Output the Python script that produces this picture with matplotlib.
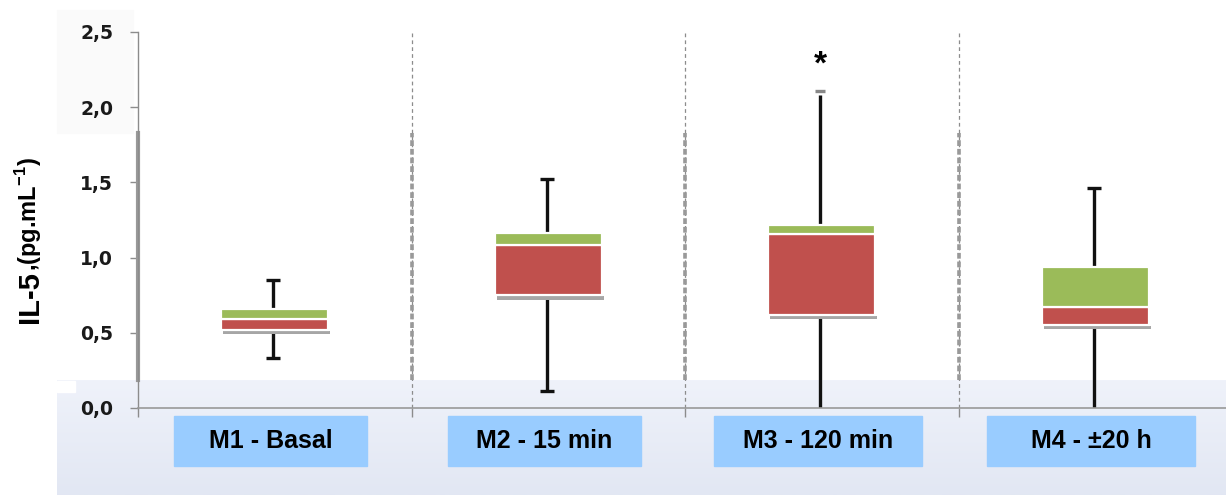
import numpy as np
import matplotlib
matplotlib.use('Agg')
import matplotlib.pyplot as plt
from matplotlib.patches import Rectangle
import matplotlib.transforms as mtransforms

# data (pg/mL)
groups = ['M1 - Basal', 'M2 - 15 min', 'M3 - 120 min', 'M4 - \u00b120 h']
q1 = [0.52, 0.75, 0.62, 0.555]
median = [0.595, 1.085, 1.16, 0.67]
q3 = [0.655, 1.165, 1.215, 0.94]
lowest = [0.33, 0.115, 0.0, 0.0]
highest = [0.85, 1.52, 2.11, 1.465]
yticks = [0.0, 0.5, 1.0, 1.5, 2.0, 2.5]
ytick_labels = ['0,0', '0,5', '1,0', '1,5', '2,0', '2,5']
star_group = 2
star_y = 2.28

W, H = 1226, 495
red = '#c0504d'
green = '#9bbb59'
labelBlue = '#99ccff'
grey = '#8c8c8c'

plt.rcParams['mathtext.fontset'] = 'custom'
plt.rcParams['mathtext.rm'] = 'Liberation Sans:bold'
plt.rcParams['mathtext.bf'] = 'Liberation Sans:bold'

fig = plt.figure(figsize=(W / 100, H / 100), dpi=100)
fig.patch.set_facecolor('white')

# light band at the bottom and faint patch at the top left
bg = fig.add_axes([57 / W, 0, 1 - 57 / W, 115 / H], zorder=0)
grad = np.linspace(0, 1, 100).reshape(-1, 1)
c0 = np.array([0xef, 0xf2, 0xfa]) / 255.
c1 = np.array([0xe2, 0xe7, 0xf3]) / 255.
img = c0[None, None, :] * (1 - grad[:, :, None]) + c1[None, None, :] * grad[:, :, None]
bg.imshow(img, aspect='auto', extent=[0, 1, 0, 1])
bg.axis('off')
fig.patches.append(Rectangle((57 / W, 1 - 392 / H), 18 / W, 11 / H,
                             transform=fig.transFigure, color='white', zorder=0.5))
fig.patches.append(Rectangle((57 / W, 1 - 133 / H), 76 / W, 123 / H,
                             transform=fig.transFigure, color='#fafafa', zorder=0))

ax = fig.add_axes([138 / W, 1 - 408 / H, 1 - 138 / W, 376 / H], zorder=1)
ax.set_facecolor('none')
ax.set_xlim(0.5, 0.5 + (W - 138) / 273.5)
ax.set_ylim(0, 2.5)

x = np.arange(1, len(groups) + 1)
width = 0.39

# separators and left spine (thin full line plus thicker middle segment)
for sep in [1.5, 2.5, 3.5]:
    ax.axvline(sep, color=grey, lw=0.9, ls=(0, (3, 2.5)), zorder=1)
    ax.plot([sep, sep], [0.186, 1.83], color='#999999', lw=2.6,
            ls=(0, (1.6, 0.8)), zorder=1)
ax.plot([0.5, 0.5], [0.186, 1.83], color='#999999', lw=3.0, zorder=2,
        clip_on=False)

# whiskers
shift = 2 / 273.5
for i in range(len(groups)):
    xc = x[i] - 0.005
    ax.plot([xc, xc], [q3[i], highest[i] - (0.03 if i == star_group else 0)],
            color='#111111', lw=2.4, zorder=2, solid_capstyle='butt')
    ax.plot([xc, xc], [lowest[i], q1[i]], color='#111111', lw=2.4, zorder=2,
            solid_capstyle='butt')
    capColor = '#888888' if i == star_group else '#111111'
    capHalf = 0.018 if i == star_group else 0.026
    ax.plot([xc - capHalf, xc + capHalf], [highest[i], highest[i]],
            color=capColor, lw=2.4, zorder=2, solid_capstyle='butt')
    if lowest[i] > 0:
        ax.plot([xc - 0.026, xc + 0.026], [lowest[i], lowest[i]],
                color='#111111', lw=2.4, zorder=2, solid_capstyle='butt')

# box shadow, lower half (red) and upper half (green)
ax.bar(x + shift, [0.022] * len(x), width, bottom=np.array(q1) - 0.03,
       color='#a6a6a6', zorder=3)
ax.bar(x, np.array(median) - np.array(q1), width, bottom=q1, color=red,
       edgecolor='white', linewidth=1.6, zorder=4)
ax.bar(x, np.array(q3) - np.array(median), width, bottom=median, color=green,
       edgecolor='white', linewidth=1.6, zorder=4)

ax.text(x[star_group] - 0.005, star_y, '*', ha='center', va='center',
        fontsize=24, fontweight='bold', family='Liberation Sans')

# axes styling
for side in ['top', 'right']:
    ax.spines[side].set_visible(False)
ax.spines['left'].set_color(grey)
ax.spines['left'].set_linewidth(1.0)
ax.spines['bottom'].set_color('#999999')
ax.spines['bottom'].set_linewidth(1.2)
ax.set_yticks(yticks)
ax.set_yticklabels(ytick_labels, fontsize=13.5, fontweight='bold',
                   family='DejaVu Sans', color='#1a1a1a')
ax.tick_params(axis='y', length=6, width=1, color=grey, pad=12)
ax.set_xticks([0.5, 1.5, 2.5, 3.5])
ax.set_xticklabels([])
ax.tick_params(axis='x', length=6.5, width=1, color=grey)

# category labels in blue boxes
trans = mtransforms.blended_transform_factory(ax.transData, ax.transAxes)
boxWidths = [0.706, 0.706, 0.76, 0.76]
for i, name in enumerate(groups):
    xc = x[i] - 0.015
    ax.add_patch(Rectangle((xc - boxWidths[i] / 2, -0.154), boxWidths[i], 0.133,
                           transform=trans, color=labelBlue, clip_on=False,
                           zorder=5))
    ax.text(xc, -0.088, name, transform=trans, ha='center', va='center',
            fontsize=18, fontweight='bold', family='Liberation Sans',
            zorder=6)

# y label, two sizes
t1 = fig.text(38 / W, 1 - 323 / H, 'IL-5', rotation=90, rotation_mode='anchor',
              ha='left', va='baseline', fontsize=21, fontweight='bold',
              family='Liberation Sans')
fig.canvas.draw()
bb = t1.get_window_extent()
fig.text(37 / W, bb.y1 / H, r',(pg.mL$^{\mathbf{-1}}$)', rotation=90,
         rotation_mode='anchor', ha='left', va='baseline', fontsize=17,
         fontweight='bold', family='Liberation Sans')

plt.savefig('out.png', dpi=100)
plt.close()
